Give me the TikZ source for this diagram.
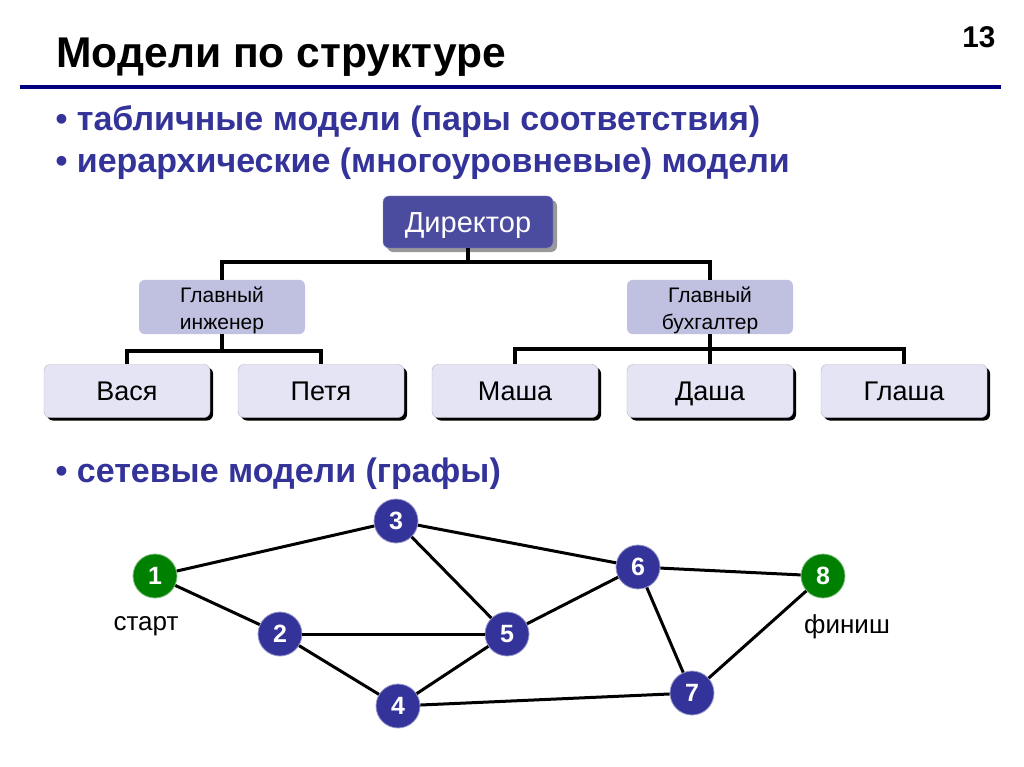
\documentclass[tikz,border=0pt]{standalone}
\usepackage{fontspec}
\setmainfont{Liberation Sans}
\newfontfamily\narrowfont[FakeStretch=0.99]{Liberation Sans}
\usepackage{tikz}
\usetikzlibrary{positioning,shadows}
\usepackage{xcolor}
\definecolor{rulenavy}{RGB}{0,0,128}
\definecolor{bullettext}{RGB}{51,51,153}
\definecolor{bossfill}{RGB}{75,75,160}
\definecolor{chieffill}{RGB}{192,192,224}
\definecolor{workerfill}{RGB}{228,228,244}
\definecolor{vertexblue}{RGB}{51,51,153}
\definecolor{vertexgreen}{RGB}{0,128,0}
\newcommand{\chieftext}[2]{\rule{0pt}{23pt}#1\\#2}
\tikzset{
	box/.style={rounded corners=6pt, minimum width=166pt, minimum height=53pt, align=center, inner sep=2pt},
	bossbox/.style={box, minimum width=170pt, minimum height=52pt, fill=bossfill, draw=bossfill!60!white, text=white,
		font=\fontsize{29}{32}\selectfont, text height=27pt, text depth=6pt,
		drop shadow={shadow xshift=4pt, shadow yshift=-4pt, fill=black!40, opacity=1}},
	chiefbox/.style={box, inner ysep=0pt, fill=chieffill, font=\fontsize{21}{27}\selectfont},
	workerbox/.style={box, fill=workerfill, draw=workerfill!80!black, line width=0.4pt,
		font=\fontsize{27}{30}\selectfont, text height=24pt, text depth=5.5pt,
		drop shadow={shadow xshift=3pt, shadow yshift=-3pt, fill=black, opacity=1}},
	tree/.style={line width=4pt},
	vertex/.style={circle, minimum size=44pt, inner sep=0pt, fill=vertexblue, draw=vertexblue!50!white, line width=0.8pt,
		text=white, font=\bfseries\fontsize{25}{25}\selectfont},
	endvertex/.style={vertex, fill=vertexgreen, draw=vertexgreen!50!white},
	edge/.style={line width=3pt},
	bullet/.style={anchor=base west, text=bullettext, font=\bfseries\fontsize{34}{34}\selectfont},
	caption/.style={font=\fontsize{26}{26}\selectfont}
}

\begin{document}
\begin{tikzpicture}[x=1pt, y=-1pt]
	\useasboundingbox[fill=white] (0,0) rectangle (1024,767);
	
	% title
	\node[anchor=base west, font=\narrowfont\bfseries\fontsize{43}{43}\selectfont] (title) at (53,68) {Модели по структуре};
	\node[anchor=base east, font=\narrowfont\bfseries\fontsize{30}{30}\selectfont] (page) at (999,48) {13};
	\draw[line width=4pt, rulenavy] (20,87) -- (1001,87);
	
	\node[bullet] (tables) at (52,131) {\textbullet\ табличные модели (пары соответствия)};
	\node[bullet] (levels) at (52,173) {\textbullet\ иерархические (многоуровневые) модели};
	\node[bullet] (graphs) at (52,482) {\textbullet\ сетевые модели (графы)};
	
	% hierarchy
	\node[bossbox] (director) at (468,222) {Директор};
	\node[chiefbox] (engineer) at (222,307) {\chieftext{Главный}{инженер}};
	\node[chiefbox] (accountant) at (710,307) {\chieftext{Главный}{бухгалтер}};
	
	\node[workerbox] (vasya) at (127,391) {Вася};
	\node[workerbox] (petya) at (321,391) {Петя};
	\node[workerbox] (masha) at (515,391) {Маша};
	\node[workerbox] (dasha) at (710,391) {Даша};
	\node[workerbox] (glasha) at (904,391) {Глаша};
	
	\draw[tree] (director.south) -- ++(0,14) -| (engineer.north);
	\draw[tree] (director.south) -- ++(0,14) -| (accountant.north);
	\draw[tree] (engineer.south) -- ++(0,17) -| (vasya.north);
	\draw[tree] (engineer.south) -- ++(0,17) -| (petya.north);
	\draw[tree] (accountant.south) -- ++(0,15) -| (masha.north);
	\draw[tree] (accountant.south) -- (dasha.north);
	\draw[tree] (accountant.south) -- ++(0,15) -| (glasha.north);
	
	% network
	\node[endvertex] (v1) at (155,576) {1};
	\node[vertex] (v2) at (280,634) {2};
	\node[vertex] (v3) at (396,521) {3};
	\node[vertex] (v4) at (398,706) {4};
	\node[vertex] (v5) at (507,634) {5};
	\node[vertex] (v6) at (638,567) {6};
	\node[vertex] (v7) at (692,693) {7};
	\node[endvertex] (v8) at (823,576) {8};
	
	\node[caption] (start) at (146,626) {старт};
	\node[caption] (finish) at (847,627) {финиш};
	
	\foreach \a/\b in {v1/v3, v1/v2, v2/v5, v2/v4, v3/v5, v3/v6, v5/v4, v5/v6, v6/v8, v6/v7, v4/v7, v7/v8}
		\draw[edge] (\a) -- (\b);
\end{tikzpicture}
\end{document}
